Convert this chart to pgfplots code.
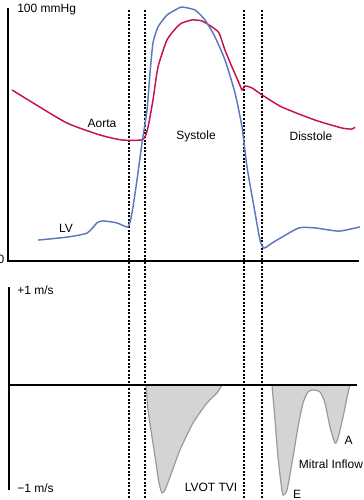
\documentclass[border=0pt]{standalone}
\usepackage{fontspec}
\setmainfont{Liberation Sans}
\usepackage{pgfplots}
\pgfplotsset{compat=1.18}
\definecolor{aorta}{HTML}{C8104A}
\definecolor{lv}{HTML}{5A78C0}
\definecolor{fillg}{HTML}{D4D4D4}
\definecolor{edgeg}{HTML}{9A9A9A}
\tikzset{vdot/.style={black,line width=1.8pt,dash pattern=on 1.5pt off 1.2pt}}
\begin{document}
\begin{tikzpicture}
\useasboundingbox (0,0) rectangle (273pt,375pt);
% ---------------- bottom panel: velocity ----------------
\begin{axis}[at={(0pt,0pt)}, anchor=south west, scale only axis,
  width=273pt, height=179.25pt, xmin=0, xmax=364, ymin=-1.1856, ymax=1.2784,
  axis lines=none, clip=false, font=\fontsize{9}{10}\selectfont]
\addplot[fill=fillg, draw=edgeg, line width=0.9pt, smooth, tension=0.4] coordinates {
(146,0) (148,-0.258) (152,-0.536) (156,-0.804) (159,-1.010) (162,-1.113)
(165,-1.082) (170,-0.948) (180,-0.670) (193,-0.392) (207,-0.186) (217,-0.082) (222,0)
} -- cycle;
\addplot[fill=fillg, draw=edgeg, line width=0.9pt, smooth, tension=0.4] coordinates {
(272,0) (275,-0.361) (278,-0.742) (281,-1.010) (283,-1.134) (287,-1.082)
(292,-0.804) (298,-0.433) (303,-0.186) (308,-0.072) (313,-0.052) (320,-0.072)
(325,-0.186) (330,-0.433) (335,-0.598) (338,-0.546) (343,-0.330) (348,-0.082) (350,0)
} -- cycle;
\draw[black, line width=1.2pt] (axis cs:9,1.010) -- (axis cs:9,-1.082);
\draw[black, line width=1.2pt] (axis cs:9,0) -- (axis cs:357,0);
\node[anchor=west, inner sep=0pt] at (axis cs:17,0.979) {+1 m/s};
\node[anchor=west, inner sep=0pt] at (axis cs:17,-1.062) {−1 m/s};
\node[inner sep=0pt] at (axis cs:211,-1.052) {LVOT TVI};
\node[inner sep=0pt] at (axis cs:297,-1.124) {E};
\node[inner sep=0pt] at (axis cs:348.5,-0.567) {A};
\node[inner sep=0pt] at (axis cs:331,-0.814) {Mitral Inflow};
\end{axis}
% ---------------- top panel: pressure ----------------
\begin{axis}[at={(0pt,179.25pt)}, anchor=south west, scale only axis,
  width=273pt, height=195.75pt, xmin=0, xmax=364, ymin=0, ymax=104.82,
  axis lines=none, clip=false, font=\fontsize{9}{10}\selectfont]
\draw[vdot] (axis cs:129,100.8) -- (axis cs:129,-96);
\draw[vdot] (axis cs:145,100.8) -- (axis cs:145,-96);
\draw[vdot] (axis cs:244,100.8) -- (axis cs:244,-96);
\draw[vdot] (axis cs:262,100.8) -- (axis cs:262,-96);
\draw[black, line width=1.2pt] (axis cs:8,101.6) -- (axis cs:8,0) -- (axis cs:359,0);
\addplot[aorta, line width=1.1pt, smooth, tension=0.35] coordinates {
(12,68.7) (33,63.5) (67,55.4) (100,50.6) (122,48.6) (143,48.8) (148,53.8)
(153,64.7) (158,77.9) (167,88.8) (177,94.0) (182,95.6) (192,96.8) (202,96.4)
(212,94.0) (219,91.6) (225,84.7) (232,77.9) (239,71.5) (242,68.7) (245,70.3)
(252,69.5) (262,66.7) (282,61.8) (315,56.6) (342,53.4) (352,53.0) (355,53.8)
};
\addplot[lv, line width=1.1pt, smooth, tension=0.35] coordinates {
(38,8.4) (67,9.6) (87,11.2) (97,15.3) (103,16.1) (117,15.3) (128,13.7)
(132,19.3) (137,32.5) (142,47.4) (147,60.6) (150,75.5) (153,87.6) (158,94.0)
(167,98.8) (177,101.2) (182,102.0) (195,100.8) (205,96.8) (215,90.0) (225,80.7)
(235,67.5) (242,53.8) (247,37.8) (254,21.7) (260,8.4) (264,5.2) (272,7.2)
(282,9.6) (299,13.3) (315,13.3) (339,12.0) (360,13.7)
};
\node[anchor=west, inner sep=0pt] at (axis cs:17,101.0) {100 mmHg};
\node[anchor=east, inner sep=0pt] at (axis cs:4.5,0.8) {0};
\node[inner sep=0pt] at (axis cs:102,55.4) {Aorta};
\node[inner sep=0pt] at (axis cs:66,13.3) {LV};
\node[inner sep=0pt] at (axis cs:196,50.2) {Systole};
\node[inner sep=0pt] at (axis cs:311,50.2) {Disstole};
\end{axis}
\end{tikzpicture}
\end{document}
